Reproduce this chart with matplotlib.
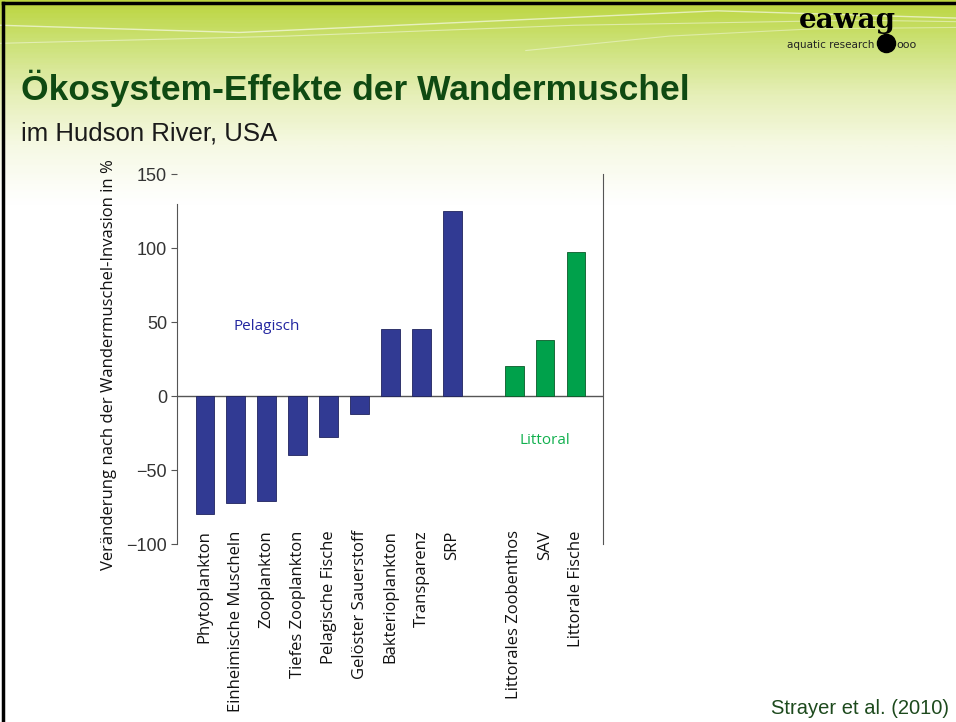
import numpy as np
import matplotlib
matplotlib.use("Agg")
import matplotlib.pyplot as plt
from matplotlib.colors import LinearSegmentedColormap

# data
pelagic_labels = ["Phytoplankton", "Einheimische Muscheln", "Zooplankton", "Tiefes Zooplankton",
                  "Pelagische Fische", "Gelöster Sauerstoff", "Bakterioplankton", "Transparenz", "SRP"]
pelagic_values = [-80, -72, -71, -40, -28, -12, 45, 45, 125]
littoral_labels = ["Littorales Zoobenthos", "SAV", "Littorale Fische"]
littoral_values = [20, 38, 97]
yticks = [-100, -50, 0, 50, 100, 150]

blue = "#313a93"
green = "#00a14b"

fig = plt.figure(figsize=(9.56, 7.22), dpi=100)

# slide background: green header fading into white
bg = fig.add_axes([0, 0, 1, 1], zorder=-10)
cmap = LinearSegmentedColormap.from_list("hdr", [(0.0, "#bcd640"), (0.06, "#cde27a"),
                                                 (0.13, "#e6efb8"), (0.2, "#f6f9e4"),
                                                 (0.28, "#ffffff"), (1.0, "#ffffff")])
grad = np.linspace(0, 1, 400).reshape(-1, 1)
bg.imshow(grad, aspect="auto", cmap=cmap, extent=[0, 1, 0, 1], origin="upper")
# a few light swoosh lines in the header
bg.plot([0.0, 0.25, 0.5, 0.75, 1.0], [0.965, 0.955, 0.97, 0.985, 0.975], color="white", lw=1.0, alpha=0.6)
bg.plot([0.0, 0.3, 0.6, 0.9, 1.0], [0.94, 0.95, 0.965, 0.972, 0.97], color="white", lw=0.8, alpha=0.45)
bg.plot([0.55, 0.7, 0.85, 1.0], [0.93, 0.95, 0.96, 0.962], color="white", lw=0.8, alpha=0.4)
# black slide frame (top and left)
bg.plot([0.003, 0.003], [0, 0.996], color="black", lw=2.5)
bg.plot([0.003, 1.0], [0.996, 0.996], color="black", lw=2.5)
bg.set_xlim(0, 1)
bg.set_ylim(0, 1)
bg.axis("off")

# logo
fig.text(0.836, 0.971, "eawag", fontsize=20, fontweight="bold", family="DejaVu Serif",
         color="black", ha="left", va="center")
fig.text(0.823, 0.938, "aquatic research", fontsize=7.5, family="DejaVu Sans", color="#222222",
         ha="left", va="center")
bg.scatter([0.927], [0.941], s=170, color="black", zorder=5)
fig.text(0.938, 0.937, "ooo", fontsize=8, family="DejaVu Sans", color="#222222", ha="left", va="center")

# titles
fig.text(0.022, 0.878, "Ökosystem-Effekte der Wandermuschel", fontsize=25.5, fontweight="bold",
         family="Liberation Sans", color="#0f4a12", ha="left", va="center")
fig.text(0.022, 0.815, "im Hudson River, USA", fontsize=18.5, family="Liberation Sans",
         color="#1a1a1a", ha="left", va="center")
fig.text(0.807, 0.019, "Strayer et al. (2010)", fontsize=14.5, family="Liberation Sans",
         color="#1d4a1d", ha="left", va="center")

# chart
ax = fig.add_axes([0.1851, 0.2465, 0.6308 - 0.1851, 0.759 - 0.2465])
ax.patch.set_alpha(0)
xp = np.arange(len(pelagic_values))
xl = np.arange(len(littoral_values)) + len(pelagic_values) + 1
ax.bar(xp, pelagic_values, width=0.6, color=blue, edgecolor="#20245e", linewidth=0.6, zorder=2)
ax.bar(xl, littoral_values, width=0.6, color=green, edgecolor="#0b5a2a", linewidth=0.6, zorder=2)
ax.axhline(0, color="#555555", lw=1.0, zorder=1)

ax.set_xlim(-0.9, xl[-1] + 0.87)
ax.set_ylim(-100, 150)
ax.set_yticks(yticks)
ax.set_yticklabels([str(t).replace("-", "\u2212") for t in yticks], fontsize=13,
                   family="Liberation Sans", color="#333333")
ax.tick_params(axis="y", length=4, width=0.8, color="#555555", pad=3)

ax.set_xticks(list(xp) + list(xl))
ax.set_xticklabels(pelagic_labels + littoral_labels, rotation=90, fontsize=12,
                   family="Open Sans", color="#111111")
ax.tick_params(axis="x", length=0, pad=-10)

for s in ["top", "bottom"]:
    ax.spines[s].set_visible(False)
ax.spines["left"].set_color("#555555")
ax.spines["right"].set_color("#555555")
ax.spines["left"].set_bounds(-100, 130)

ax.set_ylabel("Veränderung nach der Wandermuschel-Invasion in %", fontsize=12,
              family="Open Sans", color="#111111")
ax.yaxis.set_label_coords(-0.141, 0.486)

ax.text(2.0, 47, "Pelagisch", fontsize=11, family="Open Sans", color="#2326a0", ha="center", va="center")
ax.text(11.0, -30, "Littoral", fontsize=11, family="Open Sans", color="#11b04e", ha="center", va="center")

fig.savefig("out.png", dpi=100)
